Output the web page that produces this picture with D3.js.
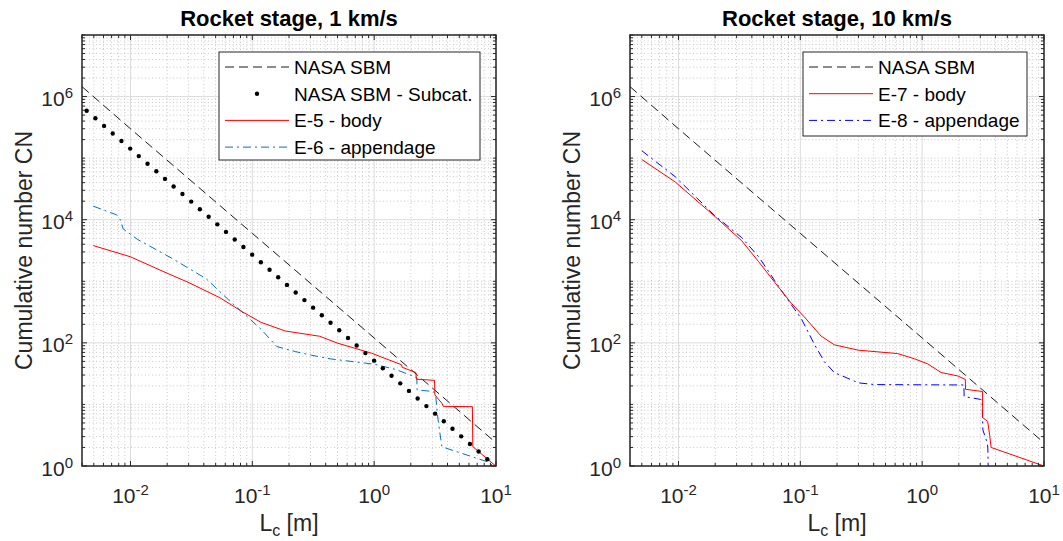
<!DOCTYPE html>
<html>
<head>
<meta charset="utf-8">
<script src="https://cdn.jsdelivr.net/npm/d3@7"></script>
<style>
  body { margin: 0; background: #fff; }
  svg { display: block; }
</style>
</head>
<body>
<script>
// axis ranges and tick labels
const xDomain = [0.004, 10];
const yDomain = [1, 1e7];
const xMajor = [0.01, 0.1, 1, 10];
const xTickLabels = ['-2', '-1', '0', '1'];
const yMajor = [1, 1e2, 1e4, 1e6];
const yTickLabels = ['0', '2', '4', '6'];

// NASA standard breakup model (straight line in log-log)
const sbmLc = [0.004, 0.01, 0.1, 1, 9.5];
const sbmCN = [1.45e6, 3.0e5, 6.0e3, 120, 2.6];

// NASA SBM - subcategory (dots, left panel)
const subLc = [0.00437, 0.00515, 0.00607, 0.00715, 0.00843, 0.00994, 0.0117, 0.0138, 0.0163, 0.0192,
  0.0226, 0.0267, 0.0315, 0.0371, 0.0438, 0.0516, 0.0608, 0.0717, 0.0845, 0.0997,
  0.1175, 0.1385, 0.163, 0.1925, 0.227, 0.2676, 0.3155, 0.372, 0.4385, 0.517,
  0.61, 0.7185, 0.847, 0.999, 1.178, 1.388, 1.637, 1.93, 2.275, 2.683,
  3.162, 3.728, 4.395, 5.182, 6.109, 7.202, 8.492];
const subCN = [589000, 444000, 334000, 252000, 190000, 143000, 108000, 81100, 61100, 46000,
  34700, 26100, 19700, 14800, 11200, 8410, 6340, 4780, 3600, 2710,
  2040, 1540, 1160, 873, 658, 495, 373, 281, 212, 160,
  120, 90.6, 68.2, 51.4, 38.7, 29.2, 22.0, 16.6, 12.5, 9.4,
  7.08, 5.33, 4.02, 3.03, 2.28, 1.72, 1.29];

// E-5 body, 1 km/s
const e5Lc = [0.00495, 0.01, 0.0192, 0.0302, 0.0542, 0.0828, 0.118, 0.186, 0.357, 0.5,
  0.95, 1.68, 1.7, 2.2, 2.22, 3.13, 3.15, 3.6, 3.7, 6.4, 6.45, 9.95];
const e5CN = [3800, 2500, 1400, 950, 540, 320, 215, 156, 128, 99,
  68, 44, 40, 33, 25.7, 24.6, 14.3, 10.4, 9.3, 9.2, 2.06, 1];

// E-6 appendage, 1 km/s
const e6Lc = [0.00495, 0.0077, 0.0083, 0.0087, 0.0114, 0.0218, 0.0418, 0.066, 0.085, 0.118,
  0.159, 0.227, 0.305, 0.435, 0.834, 1.0, 1.5, 2.07, 2.24, 2.25,
  3.07, 3.2, 3.3, 3.4, 3.6, 8.4, 9.6];
const e6CN = [16600, 12000, 9800, 7100, 4800, 2370, 1100, 470, 300, 166,
  87, 72, 63, 55, 47, 45, 37, 29, 27, 17.2,
  16.2, 14, 7.2, 4.4, 2.05, 1.18, 1.0];

// E-7 body, 10 km/s
const e7Lc = [0.005, 0.0094, 0.02, 0.033, 0.0454, 0.0617, 0.0843, 0.108, 0.148, 0.19,
  0.3, 0.63, 0.866, 1.11, 1.43, 1.96, 2.26, 2.27, 3.13, 3.14,
  3.45, 3.58, 3.68, 10];
const e7CN = [95000, 41000, 11200, 4560, 2090, 960, 440, 263, 129, 93,
  76, 67, 55, 45.6, 33, 29, 25.5, 17.6, 16.2, 6.1,
  5.3, 3.2, 2.0, 1];

// E-8 appendage, 10 km/s
const e8Lc = [0.005, 0.0094, 0.02, 0.033, 0.0454, 0.0617, 0.079, 0.102, 0.131, 0.158,
  0.19, 0.3, 0.41, 2.2, 2.21, 3.0, 3.1, 3.15, 3.43, 3.46, 3.48];
const e8CN = [132000, 50000, 11500, 5130, 2520, 1020, 500, 246, 93, 49,
  33, 22.4, 21, 20.7, 13.4, 12.1, 11.8, 3.85, 2.34, 1.96, 1.0];

const W = 1063, H = 541;
const plotTop = 35, plotBottom = 466, plotW = 414;
const ink = '#262626';

const styles = {
  sbm: { stroke: '#000', dash: '9,5', width: 0.9 },
  e5: { stroke: '#ff0000', dash: null, width: 1 },
  e6: { stroke: '#0072bd', dash: '8,4,2,4', width: 1 },
  e7: { stroke: '#ff0000', dash: null, width: 1 },
  e8: { stroke: '#0000ff', dash: '8,4,2,4', width: 1 }
};

const panels = [
  {
    left: 82, title: 'Rocket stage, 1 km/s',
    lines: [
      { lc: sbmLc, cn: sbmCN, s: styles.sbm },
      { lc: e6Lc, cn: e6CN, s: styles.e6 },
      { lc: e5Lc, cn: e5CN, s: styles.e5 }
    ],
    dots: { lc: subLc, cn: subCN },
    legend: { x: 219, y: 52, w: 261, h: 108, rows: [
      { label: 'NASA SBM', s: styles.sbm },
      { label: 'NASA SBM - Subcat.', dot: true },
      { label: 'E-5 - body', s: styles.e5 },
      { label: 'E-6 - appendage', s: styles.e6 }
    ] }
  },
  {
    left: 630, title: 'Rocket stage, 10 km/s',
    lines: [
      { lc: sbmLc, cn: sbmCN, s: styles.sbm },
      { lc: e8Lc, cn: e8CN, s: styles.e8 },
      { lc: e7Lc, cn: e7CN, s: styles.e7 }
    ],
    dots: null,
    legend: { x: 803, y: 52, w: 224, h: 84, rows: [
      { label: 'NASA SBM', s: styles.sbm },
      { label: 'E-7 - body', s: styles.e7 },
      { label: 'E-8 - appendage', s: styles.e8 }
    ] }
  }
];

const svg = d3.select('body').append('svg')
  .attr('width', W)
  .attr('height', H)
  .style('font-family', 'Arial, "Liberation Sans", Helvetica, sans-serif');

function powLabel(sel, exp) {
  sel.append('tspan').text('10');
  sel.append('tspan').attr('dy', -8).style('font-size', '15px').text(exp);
}

panels.forEach(function(p, pi) {
  const right = p.left + plotW;
  const x = d3.scaleLog().domain(xDomain).range([p.left, right]);
  const y = d3.scaleLog().domain(yDomain).range([plotBottom, plotTop]);
  const g = svg.append('g');

  const xMinor = x.ticks().filter(v => !xMajor.some(m => Math.abs(m - v) / m < 1e-6));
  const yMinor = y.ticks().filter(v => !yMajor.some(m => Math.abs(m - v) / m < 1e-6));

  // minor grid (dotted)
  g.append('g').selectAll('line').data(xMinor).join('line')
    .attr('x1', d => x(d)).attr('x2', d => x(d))
    .attr('y1', plotTop).attr('y2', plotBottom)
    .attr('stroke', '#bdbdbd').attr('stroke-width', 0.8)
    .attr('stroke-dasharray', '1,2.5');
  g.append('g').selectAll('line').data(yMinor).join('line')
    .attr('y1', d => y(d)).attr('y2', d => y(d))
    .attr('x1', p.left).attr('x2', right)
    .attr('stroke', '#bdbdbd').attr('stroke-width', 0.8)
    .attr('stroke-dasharray', '1,2.5');

  // major grid
  g.append('g').selectAll('line').data(xMajor).join('line')
    .attr('x1', d => x(d)).attr('x2', d => x(d))
    .attr('y1', plotTop).attr('y2', plotBottom)
    .attr('stroke', '#dcdcdc').attr('stroke-width', 1);
  g.append('g').selectAll('line').data(yMajor).join('line')
    .attr('y1', d => y(d)).attr('y2', d => y(d))
    .attr('x1', p.left).attr('x2', right)
    .attr('stroke', '#dcdcdc').attr('stroke-width', 1);

  // clip the data to the axes
  svg.append('clipPath').attr('id', 'clip' + pi)
    .append('rect').attr('x', p.left).attr('y', plotTop)
    .attr('width', plotW).attr('height', plotBottom - plotTop);

  const data = g.append('g').attr('clip-path', 'url(#clip' + pi + ')');
  const line = d3.line().x(d => x(d[0])).y(d => y(d[1]));

  p.lines.forEach(function(l) {
    data.append('path')
      .attr('d', line(d3.zip(l.lc, l.cn)))
      .attr('fill', 'none')
      .attr('stroke', l.s.stroke)
      .attr('stroke-width', l.s.width)
      .attr('stroke-dasharray', l.s.dash);
  });

  if (p.dots) {
    data.selectAll('circle').data(d3.zip(p.dots.lc, p.dots.cn)).join('circle')
      .attr('cx', d => x(d[0])).attr('cy', d => y(d[1]))
      .attr('r', 2.2).attr('fill', '#000');
  }

  // box
  g.append('rect')
    .attr('x', p.left).attr('y', plotTop)
    .attr('width', plotW).attr('height', plotBottom - plotTop)
    .attr('fill', 'none').attr('stroke', ink).attr('stroke-width', 1.5);

  // ticks, inward on all four sides
  const ticks = g.append('g').attr('stroke', ink).attr('stroke-width', 1);
  function xTick(v, len) {
    ticks.append('line').attr('x1', x(v)).attr('x2', x(v)).attr('y1', plotBottom).attr('y2', plotBottom - len);
    ticks.append('line').attr('x1', x(v)).attr('x2', x(v)).attr('y1', plotTop).attr('y2', plotTop + len);
  }
  function yTick(v, len) {
    ticks.append('line').attr('y1', y(v)).attr('y2', y(v)).attr('x1', p.left).attr('x2', p.left + len);
    ticks.append('line').attr('y1', y(v)).attr('y2', y(v)).attr('x1', right).attr('x2', right - len);
  }
  xMinor.forEach(v => xTick(v, 3));
  xMajor.forEach(v => xTick(v, 5));
  yMinor.forEach(v => yTick(v, 3));
  yMajor.forEach(v => yTick(v, 5));

  // tick labels
  xMajor.forEach(function(v, i) {
    g.append('text')
      .attr('x', x(v)).attr('y', 503)
      .attr('text-anchor', 'middle')
      .attr('fill', ink).style('font-size', '21px')
      .call(powLabel, xTickLabels[i]);
  });
  yMajor.forEach(function(v, i) {
    g.append('text')
      .attr('x', p.left - 9).attr('y', y(v) + 9.5)
      .attr('text-anchor', 'end')
      .attr('fill', ink).style('font-size', '21px')
      .call(powLabel, yTickLabels[i]);
  });

  // axis labels and title
  const cx = (p.left + right) / 2;
  const xl = g.append('text')
    .attr('x', cx).attr('y', 531)
    .attr('text-anchor', 'middle')
    .attr('fill', ink).style('font-size', '23px');
  xl.append('tspan').text('L');
  xl.append('tspan').attr('dy', 5).style('font-size', '16px').text('c');
  xl.append('tspan').attr('dy', -5).text(' [m]');

  g.append('text')
    .attr('transform', 'translate(' + (p.left - 50) + ',' + ((plotTop + plotBottom) / 2) + ') rotate(-90)')
    .attr('text-anchor', 'middle')
    .attr('fill', ink).style('font-size', '23px')
    .text('Cumulative number CN');

  g.append('text')
    .attr('x', cx).attr('y', 26)
    .attr('text-anchor', 'middle')
    .attr('fill', '#000').style('font-size', '22px').style('font-weight', 'bold')
    .text(p.title);

  // legend
  const lg = p.legend;
  const leg = g.append('g');
  leg.append('rect')
    .attr('x', lg.x).attr('y', lg.y).attr('width', lg.w).attr('height', lg.h)
    .attr('fill', '#fff').attr('stroke', ink).attr('stroke-width', 1);
  const rowH = 26.7;
  lg.rows.forEach(function(r, i) {
    const ry = lg.y + 15 + i * rowH;
    if (r.dot) {
      leg.append('circle').attr('cx', lg.x + 38).attr('cy', ry).attr('r', 2.2).attr('fill', '#000');
    } else {
      leg.append('line')
        .attr('x1', lg.x + 6).attr('x2', lg.x + 70)
        .attr('y1', ry).attr('y2', ry)
        .attr('stroke', r.s.stroke).attr('stroke-width', r.s.width)
        .attr('stroke-dasharray', r.s.dash);
    }
    leg.append('text')
      .attr('x', lg.x + 75).attr('y', ry + 7)
      .attr('fill', '#000').style('font-size', '19px')
      .text(r.label);
  });
});
</script>
</body>
</html>
